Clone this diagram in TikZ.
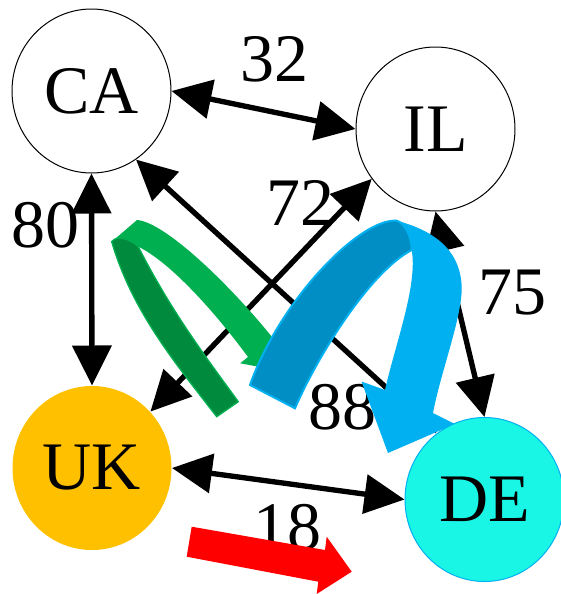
\documentclass[tikz,border=0pt]{standalone}
\usepackage{fontspec}
\setmainfont{Liberation Serif}
\usetikzlibrary{arrows.meta,shapes.geometric}
\definecolor{gold}{HTML}{FFC000}
\definecolor{aqua}{HTML}{19F6E6}
\definecolor{sky}{HTML}{00B0F0}
\definecolor{deepsky}{HTML}{008EC4}
\definecolor{leaf}{HTML}{00B050}
\definecolor{deepleaf}{HTML}{008A3E}
\definecolor{signal}{HTML}{FF0000}
\pgfdeclarelayer{back}
\pgfsetlayers{back,main}
\tikzset{
  place/.style={ellipse,draw,line width=0.75pt,fill=white,minimum width=119.25pt,minimum height=123pt,inner sep=0pt},
  link/.style={line width=4pt,>={Triangle[length=30pt,width=29pt]},<->},
  weight/.style={inner sep=0pt}
}

\begin{document}
\begin{tikzpicture}[x=0.75pt,y=-0.75pt,font=\fontsize{51}{60}\selectfont]
\useasboundingbox (0,0) rectangle (561,594);
\node[place] (CA) at (91.5,91) {CA};
\node[place] (IL) at (435.5,129) {IL};
\node[place,draw=none,fill=gold] (UK) at (92,468) {UK};
\node[place,draw=sky,fill=aqua] (DE) at (484.5,499.5) {DE};
\begin{pgfonlayer}{back}
\draw[link] (CA.0) -- (IL.180);
\draw[link] (CA.-90) -- (UK.90);
\draw[link] (CA.-57) -- (DE.126);
\draw[link] (IL.-142) -- (UK.44);
\draw[link] (IL.-90) -- (DE.90);
\draw[link] (UK.0) -- (DE.180);
\node[weight] (w32) at (274,59) {32};
\node[weight] (w80) at (46,225) {80};
\node[weight] (w72) at (300,203) {72};
\node[weight] (w75) at (512,293) {75};
\node[weight] (w88) at (342,407) {88};
\node[weight] (w18) at (287,527) {18};
% green ribbon
\fill[deepleaf,draw=leaf,line width=1pt] (216.7,416.7) -- (238.3,401.7)
  .. controls (208,360) and (172,313) .. (138.3,246.7)
  .. controls (132,240) and (117,234) .. (111.7,241.7)
  .. controls (132.5,312.5) and (176.6,364.6) .. (216.7,416.7) -- cycle;
\fill[leaf] (111.7,241.7) -- (137,220)
  .. controls (165,222) and (230,285) .. (272,337)
  -- (280,330.7) -- (281,371) -- (240.2,363.3) -- (248,357)
  .. controls (215,312) and (170,262) .. (138.3,246.7)
  .. controls (132,240) and (117,234) .. (111.7,241.7) -- cycle;
% blue ribbon
\fill[deepsky,draw=sky,line width=1.5pt] (250,385) -- (295,408.3)
  .. controls (318,355) and (370,272) .. (411.7,250)
  .. controls (412,238) and (405,223) .. (396.7,220.7)
  .. controls (360,218) and (280,300) .. (250,385) -- cycle;
\fill[sky] (396.7,220.7)
  .. controls (440,232) and (462,255) .. (461.7,290)
  .. controls (461,320) and (440,375) .. (433,413)
  -- (455,424) -- (388,453) -- (361.5,381.5) -- (385,390)
  .. controls (395,345) and (418,285) .. (411.7,250)
  .. controls (412,238) and (405,223) .. (396.7,220.7) -- cycle;
% red arrow
\fill[signal] (191.7,526.7) -- (325,550) -- (326.7,536.7) -- (351.7,571.7)
  -- (316.7,594) -- (318.3,581.7) -- (186.7,556.7) -- cycle;
\end{pgfonlayer}
\end{tikzpicture}
\end{document}
